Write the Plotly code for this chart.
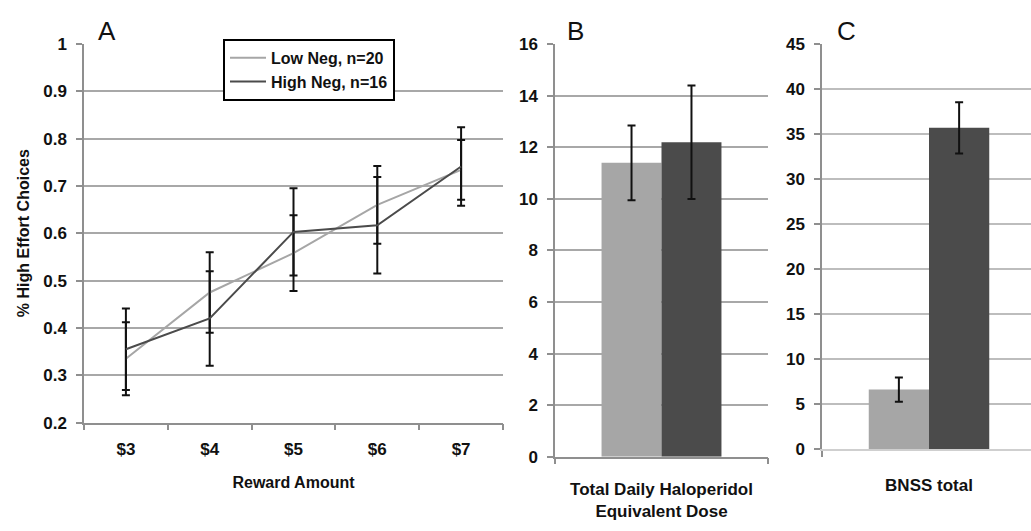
import plotly.graph_objects as go

# ---------------- data ----------------
rewards = ["$3", "$4", "$5", "$6", "$7"]
low_neg = [0.335, 0.475, 0.558, 0.660, 0.734]
low_neg_err = [0.077, 0.085, 0.080, 0.082, 0.063]
high_neg = [0.355, 0.420, 0.603, 0.617, 0.741]
high_neg_err = [0.086, 0.100, 0.092, 0.102, 0.083]

series_names = ["Low Neg, n=20", "High Neg, n=16"]

dose_category = ["Total Daily Haloperidol<br>Equivalent Dose"]
dose_low = [11.4]
dose_low_err = [1.45]
dose_high = [12.2]
dose_high_err = [2.2]

bnss_category = ["BNSS total"]
bnss_low = [6.6]
bnss_low_err = [1.35]
bnss_high = [35.7]
bnss_high_err = [2.85]

yA_ticks = [0.2, 0.3, 0.4, 0.5, 0.6, 0.7, 0.8, 0.9, 1.0]
yA_labels = ["0.2", "0.3", "0.4", "0.5", "0.6", "0.7", "0.8", "0.9", "1"]
yB_ticks = [0, 2, 4, 6, 8, 10, 12, 14, 16]
yC_ticks = [0, 5, 10, 15, 20, 25, 30, 35, 40, 45]

# ---------------- style ----------------
W, H = 1031, 531
LIGHT = "#a6a6a6"
DARK = "#4b4b4b"
GRID = "#a8a8a8"
AXIS = "#8f8f8f"
TXT = "#111111"
FONT = "Liberation Sans, Arial, sans-serif"

def px_x(p):
    return p / W

def px_y(p):
    return 1 - p / H

err_style = dict(type="data", color="#111111", thickness=2, width=4, visible=True)

fig = go.Figure()

# Panel A lines
fig.add_trace(go.Scatter(
    x=rewards, y=low_neg, name=series_names[0], mode="lines",
    line=dict(color=LIGHT, width=2),
    error_y=dict(array=low_neg_err, **err_style),
    xaxis="x", yaxis="y"))
fig.add_trace(go.Scatter(
    x=rewards, y=high_neg, name=series_names[1], mode="lines",
    line=dict(color=DARK, width=2),
    error_y=dict(array=high_neg_err, **err_style),
    xaxis="x", yaxis="y"))

# Panel B bars
fig.add_trace(go.Bar(
    x=dose_category, y=dose_low, name=series_names[0], showlegend=False,
    marker=dict(color=LIGHT, line=dict(width=0)),
    error_y=dict(array=dose_low_err, **err_style),
    xaxis="x2", yaxis="y2"))
fig.add_trace(go.Bar(
    x=dose_category, y=dose_high, name=series_names[1], showlegend=False,
    marker=dict(color=DARK, line=dict(width=0)),
    error_y=dict(array=dose_high_err, **err_style),
    xaxis="x2", yaxis="y2"))

# Panel C bars
fig.add_trace(go.Bar(
    x=bnss_category, y=bnss_low, name=series_names[0], showlegend=False,
    marker=dict(color=LIGHT, line=dict(width=0)),
    error_y=dict(array=bnss_low_err, **err_style),
    xaxis="x3", yaxis="y3"))
fig.add_trace(go.Bar(
    x=bnss_category, y=bnss_high, name=series_names[1], showlegend=False,
    marker=dict(color=DARK, line=dict(width=0)),
    error_y=dict(array=bnss_high_err, **err_style),
    xaxis="x3", yaxis="y3"))

tickfont = dict(family=FONT, size=17, color=TXT, weight="bold")
titlefont = dict(family=FONT, size=16, color=TXT, weight="bold")

common_y = dict(
    showgrid=True, gridcolor=GRID, gridwidth=1.5,
    showline=True, linecolor=AXIS, linewidth=1.5,
    ticks="outside", ticklen=6, tickcolor=AXIS, tickwidth=1.5,
    tickfont=tickfont, zeroline=False, ticklabelstandoff=6,
)
common_x = dict(
    type="category", showgrid=False, showline=True, linecolor=AXIS, linewidth=1.5,
    ticks="outside", ticklen=6, tickcolor=AXIS, tickwidth=1.5,
    tickson="boundaries", tickfont=tickfont, zeroline=False,
)

fig.update_layout(
    width=W, height=H, autosize=False,
    margin=dict(l=0, r=0, t=0, b=0),
    paper_bgcolor="white", plot_bgcolor="white",
    font=dict(family=FONT, color=TXT),
    barmode="group", bargap=0.437, bargroupgap=0,
    showlegend=True,
    legend=dict(
        x=px_x(223), y=px_y(31), xanchor="left", yanchor="top",
        bgcolor="white", bordercolor="#000000", borderwidth=2,
        font=dict(family=FONT, size=16, color=TXT, weight="bold"),
        itemwidth=36,
    ),
    xaxis=dict(
        domain=[px_x(84), px_x(503)], anchor="y", range=[-0.5, 4.5],
        ticklabelstandoff=10,
        title=dict(text="Reward Amount", font=titlefont, standoff=19),
        **common_x),
    yaxis=dict(
        domain=[px_y(429), px_y(36)], anchor="x", range=[0.2, 1.0005],
        tickvals=yA_ticks, ticktext=yA_labels,
        title=dict(text="% High Effort Choices", font=titlefont, standoff=10),
        **common_y),
    xaxis2=dict(
        domain=[px_x(555), px_x(768)], anchor="y2", ticklabelstandoff=16,
        **common_x),
    yaxis2=dict(
        domain=[px_y(464.3), px_y(36)], anchor="x2", range=[0, 16.02],
        tickvals=yB_ticks, **common_y),
    xaxis3=dict(
        domain=[px_x(822), 1.0], anchor="y3", range=[-0.5, 0.4766],
        ticklabelstandoff=20,
        **{**common_x, "linecolor": "#cfcfcf"}),
    yaxis3=dict(
        domain=[px_y(456.3), px_y(36)], anchor="x3", range=[0, 45.05],
        tickvals=yC_ticks, **{**common_y, "gridcolor": "#bdbdbd"}),
)

letter_font = dict(family=FONT, size=26, color=TXT)
for letter, xc in [("A", 106.5), ("B", 575), ("C", 846)]:
    fig.add_annotation(
        text=letter, x=px_x(xc), y=px_y(23), xref="paper", yref="paper",
        xanchor="center", yanchor="middle", showarrow=False, font=letter_font)

fig.write_html(
    "out.html",
    config={"displayModeBar": False, "responsive": False},
    post_script="document.body.style.margin='0';document.body.style.overflow='hidden';",
)
